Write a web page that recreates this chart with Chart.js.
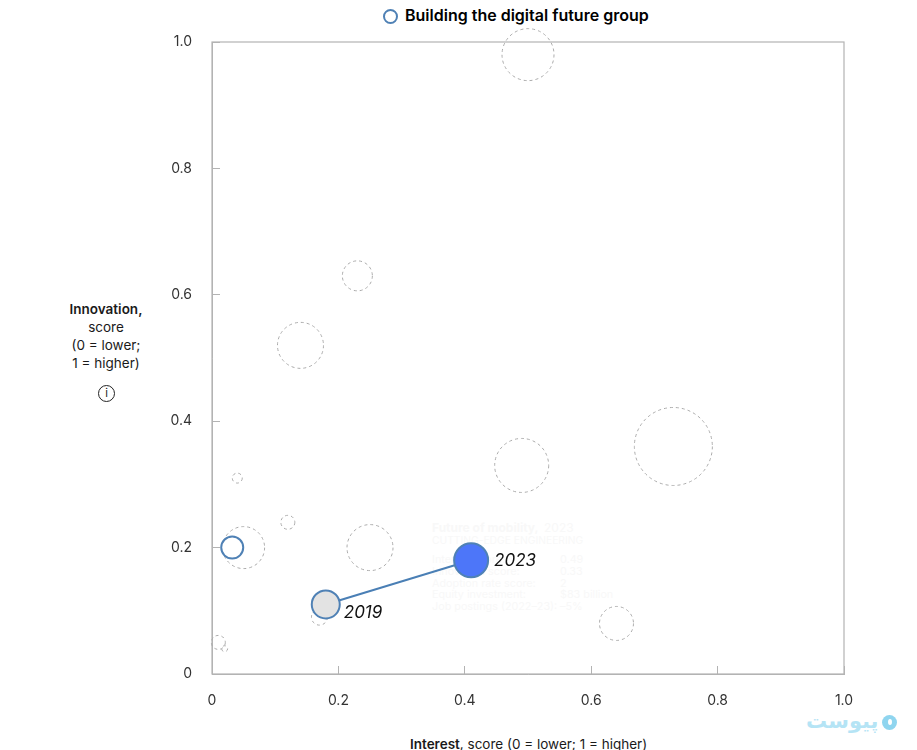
<!DOCTYPE html>
<html>
<head>
<meta charset="utf-8">
<script src="https://cdn.jsdelivr.net/npm/chart.js@4/dist/chart.umd.min.js"></script>
<style>
  html, body { margin: 0; padding: 0; background: #fff; overflow: hidden; }
  body { width: 917px; height: 750px; position: relative; font-family: "Inter", "Liberation Sans", sans-serif; color: #1a1a1a; }
  canvas { position: absolute; left: 0; top: 0; }
  .txt { position: absolute; white-space: nowrap; }
  #legend { left: 405px; top: 5px; font-size: 16px; font-weight: 600; color: #000; line-height: 20px; }
  #legendRing { position: absolute; left: 383px; top: 9px; width: 11px; height: 11px; border: 2px solid #4f81b5; border-radius: 50%; }
  #yTitle { left: 56px; width: 100px; top: 300px; text-align: center; font-size: 13.5px; line-height: 18px; white-space: normal; }
  #info { position: absolute; left: 98px; top: 385px; width: 15px; height: 15px; border: 1px solid #222; border-radius: 50%; font-size: 11px; line-height: 15px; text-align: center; }
  #xTitle { left: 410px; top: 735px; font-size: 13.5px; line-height: 18px; }
  .ghost { color: #f8f8f8; font-size: 11px; line-height: 12px; }
  #mark { left: 806px; top: 708px; font-family: "DejaVu Sans"; font-size: 21px; line-height: 26px; font-weight: 700; color: #b5e4f5; }
  #markDot { position: absolute; left: 882px; top: 715px; width: 15px; height: 15px; border-radius: 50%; background: #8fd5ef; }
  #markDot::after { content: ""; position: absolute; left: 6px; top: 4px; width: 4px; height: 6px; border-radius: 50%; background: #fff; }
</style>
</head>
<body>
<div id="legendRing"></div>
<div class="txt" id="legend">Building the digital future group</div>
<div class="txt" id="yTitle"><b style="font-weight:600">Innovation,</b><br>score<br>(0 = lower;<br>1 = higher)</div>
<div id="info">i</div>
<div class="txt" id="xTitle"><b style="font-weight:600">Interest</b>, score (0 = lower; 1 = higher)</div>
<div id="ghosts"></div>
<div class="txt" id="mark" dir="rtl">پیوست</div>
<div id="markDot"></div>
<canvas id="chart" width="917" height="750"></canvas>
<script>
const otherX = [0.5, 0.23, 0.14, 0.73, 0.49, 0.04, 0.12, 0.05, 0.25, 0.64, 0.17, 0.01, 0.02];
const otherY = [0.98, 0.63, 0.52, 0.36, 0.33, 0.31, 0.24, 0.2, 0.2, 0.08, 0.09, 0.05, 0.04];
const otherSize = [26, 15, 23, 39, 27, 5, 7, 21, 23, 17, 8, 7, 3];

const groupX = [0.032];
const groupY = [0.2];
const groupSize = [11];

const yearLabels = ["2019", "2023"];
const yearX = [0.18, 0.41];
const yearY = [0.11, 0.18];
const yearSize = [14, 17];

const xTicks = [0, 0.2, 0.4, 0.6, 0.8, 1];
const yTicks = [0, 0.2, 0.4, 0.6, 0.8, 1];

// leftover hover card, barely visible in the picture
const cardTitle = "Future of mobility,";
const cardYear = "2023";
const cardGroup = "CUTTING-EDGE ENGINEERING";
const cardRows = ["Interest score:", "Innovation score:", "Adoption rate score:", "Equity investment:", "Job postings (2022–23):"];
const cardValues = ["0.49", "0.33", "2", "$83 billion", "–5%"];

const ghosts = document.getElementById("ghosts");
function addGhost(text, left, top, size, bold) {
  const el = document.createElement("div");
  el.className = "txt ghost";
  el.textContent = text;
  el.style.left = left + "px";
  el.style.top = top + "px";
  el.style.fontSize = size + "px";
  if (bold) el.style.fontWeight = "700";
  ghosts.appendChild(el);
}
addGhost(cardTitle, 432, 522, 12, true);
addGhost(cardYear, 544, 522, 12, false);
addGhost(cardGroup, 432, 534, 10.3, false);
cardRows.forEach((row, i) => {
  addGhost(row, 432, 554 + i * 11.8, 10.8, false);
  addGhost(cardValues[i], 560, 554 + i * 11.8, 10.8, false);
});

const frameAndLabels = {
  id: "frameAndLabels",
  beforeDatasetDraw(chart, args) {
    chart.ctx.save();
    if (chart.data.datasets[args.index].dashed) chart.ctx.setLineDash([3, 3]);
  },
  afterDatasetDraw(chart) {
    chart.ctx.restore();
  },
  beforeDatasetsDraw(chart) {
    const { ctx, chartArea: a } = chart;
    ctx.save();
    ctx.strokeStyle = "#b3b3b3";
    ctx.lineWidth = 1.2;
    ctx.strokeRect(a.left, a.top, a.right - a.left, a.bottom - a.top);
    ctx.restore();
  },
  afterDatasetsDraw(chart) {
    const { ctx, scales } = chart;
    ctx.save();
    ctx.font = "italic 17px Inter";
    ctx.fillStyle = "#111";
    ctx.textBaseline = "middle";
    yearLabels.forEach((label, i) => {
      const px = scales.x.getPixelForValue(yearX[i]);
      const py = scales.y.getPixelForValue(yearY[i]);
      ctx.fillText(label, px + yearSize[i] + (i === 0 ? 4 : 6), py + (i === 0 ? 8 : 1));
    });
    ctx.restore();
  }
};

const tickFormat = (v) => (v === 0 ? "0" : v.toFixed(1));

new Chart(document.getElementById("chart"), {
  type: "bubble",
  plugins: [frameAndLabels],
  data: {
    datasets: [
      {
        data: otherX.map((x, i) => ({ x, y: otherY[i], r: otherSize[i] })),
        backgroundColor: "rgba(0,0,0,0)",
        borderColor: "#ababab",
        borderWidth: 1,
        dashed: true,
        clip: false,
        order: 4
      },
      {
        type: "line",
        data: yearX.map((x, i) => ({ x, y: yearY[i] })),
        borderColor: "#4a7fb5",
        borderWidth: 2,
        pointRadius: 0,
        clip: false,
        order: 3
      },
      {
        data: groupX.map((x, i) => ({ x, y: groupY[i], r: groupSize[i] })),
        backgroundColor: "#ffffff",
        borderColor: "#4f81b5",
        borderWidth: 2,
        clip: false,
        order: 2
      },
      {
        data: yearX.map((x, i) => ({ x, y: yearY[i], r: yearSize[i] })),
        backgroundColor: ["#e3e3e3", "#4d76f9"],
        borderColor: "#4f81b5",
        borderWidth: 2,
        clip: false,
        order: 1
      }
    ]
  },
  options: {
    responsive: false,
    animation: false,
    layout: { padding: { top: 42, right: 73, left: 0, bottom: 0 } },
    plugins: { legend: { display: false }, tooltip: { enabled: false } },
    scales: {
      x: {
        type: "linear",
        min: 0,
        max: 1,
        afterFit(scale) { scale.height = 76; },
        afterBuildTicks(scale) { scale.ticks = xTicks.map((value) => ({ value })); },
        border: { color: "#b3b3b3" },
        grid: { drawOnChartArea: false, color: "#b3b3b3", tickLength: -8 },
        ticks: { padding: 26, maxRotation: 0, color: "#333", font: { family: "Inter", size: 14 }, callback: tickFormat }
      },
      y: {
        type: "linear",
        min: 0,
        max: 1,
        afterFit(scale) { scale.width = 212; },
        afterBuildTicks(scale) { scale.ticks = yTicks.map((value) => ({ value })); },
        border: { color: "#b3b3b3" },
        grid: { drawOnChartArea: false, color: "#b3b3b3", tickLength: -8 },
        ticks: { padding: 28, color: "#333", font: { family: "Inter", size: 14 }, callback: tickFormat }
      }
    }
  }
});
</script>
</body>
</html>
